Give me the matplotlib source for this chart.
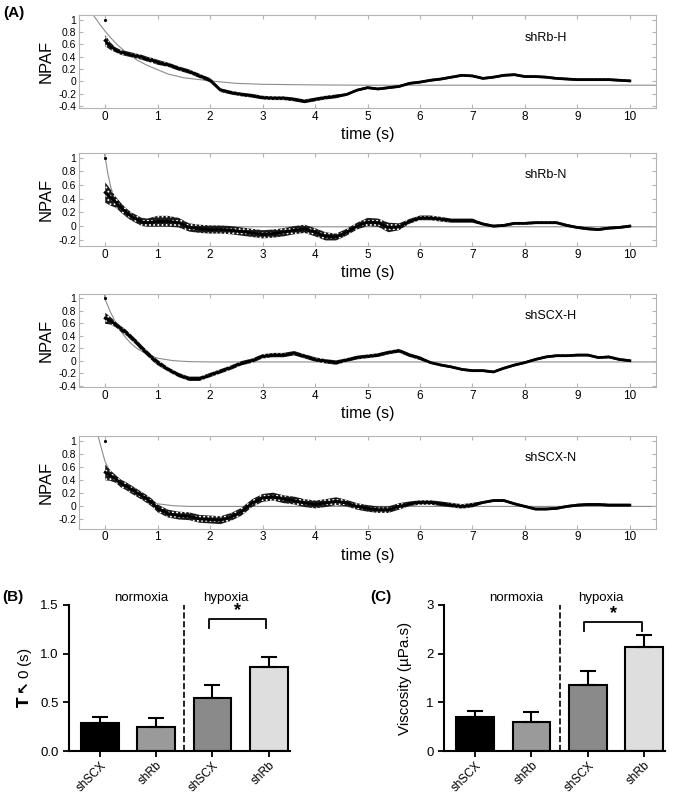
import numpy as np
import matplotlib
matplotlib.use('Agg')
import matplotlib.pyplot as plt

plt.rcParams['font.family'] = ['Liberation Sans', 'DejaVu Sans']
plt.rcParams['mathtext.fontset'] = 'dejavusans'
plt.rcParams['hatch.linewidth'] = 0.8

# time grid of the traces (s)
t = np.concatenate([np.arange(0, 1.01, 0.1), np.arange(1.2, 10.01, 0.2)])

# NPAF traces (centre and half-width of the noisy band)
shRb_H = [0.66, 0.57, 0.51, 0.47, 0.45, 0.43, 0.41, 0.39, 0.36, 0.34, 0.31,
          0.27, 0.21, 0.16, 0.09, 0.02,
          -0.14, -0.18, -0.21, -0.23, -0.26, -0.27, -0.27, -0.29, -0.32, -0.29, -0.26, -0.24,
          -0.21, -0.14, -0.10, -0.12, -0.10, -0.08, -0.03, -0.01, 0.02, 0.04, 0.07, 0.10,
          0.09, 0.05, 0.07, 0.10, 0.11, 0.08, 0.08, 0.07, 0.05, 0.04, 0.03, 0.03, 0.03,
          0.03, 0.02, 0.01]
shRb_H_sd = [0.09, 0.06] + [0.04] * 9 + [0.035] * 5 + [0.03] * 12 + [0.02] * 28

shRb_N = [0.49, 0.42, 0.35, 0.27, 0.20, 0.14, 0.10, 0.06, 0.05, 0.06, 0.07,
          0.07, 0.05, -0.02, -0.04, -0.05, -0.05, -0.06, -0.08, -0.10, -0.12, -0.11,
          -0.09, -0.06, -0.04, -0.09, -0.15, -0.16,
          -0.09, 0.0, 0.06, 0.05, -0.02, -0.01, 0.07, 0.12, 0.12, 0.10, 0.08, 0.08,
          0.08, 0.03, 0.0, 0.01, 0.04, 0.04, 0.05, 0.05, 0.05, 0.01, -0.02, -0.04,
          -0.05, -0.03, -0.02, 0.0]
shRb_N_sd = ([0.15, 0.12, 0.08, 0.07, 0.06, 0.06, 0.06, 0.06, 0.06, 0.07, 0.08]
             + [0.08, 0.07] + [0.06] * 14 + [0.05]
             + [0.05, 0.05, 0.06, 0.06, 0.07, 0.05]
             + [0.035] * 4 + [0.03] * 3 + [0.02] * 15)

shSCX_H = [0.68, 0.64, 0.58, 0.51, 0.45, 0.37, 0.29, 0.20, 0.12, 0.04, -0.03,
           -0.14, -0.23, -0.29, -0.29, -0.23, -0.17, -0.11, -0.04, 0.0, 0.07, 0.09,
           0.09, 0.12, 0.07, 0.02, -0.01, -0.03,
           0.01, 0.05, 0.07, 0.09, 0.13, 0.16, 0.09, 0.04, -0.03, -0.07, -0.10, -0.14,
           -0.16, -0.16, -0.18, -0.12, -0.07, -0.03, 0.02, 0.06, 0.08, 0.08, 0.09, 0.09,
           0.05, 0.06, 0.02, 0.0]
shSCX_H_sd = [0.09, 0.06] + [0.045] * 9 + [0.035] * 17 + [0.03] * 8 + [0.02] * 20

shSCX_N = [0.52, 0.47, 0.42, 0.35, 0.31, 0.26, 0.21, 0.16, 0.11, 0.05, -0.03,
           -0.11, -0.14, -0.15, -0.19, -0.20, -0.21, -0.16, -0.08, 0.05, 0.13, 0.15,
           0.11, 0.09, 0.05, 0.03, 0.05, 0.08,
           0.05, 0.0, -0.03, -0.05, -0.05, 0.0, 0.04, 0.06, 0.06, 0.04, 0.02, 0.0,
           0.02, 0.06, 0.09, 0.09, 0.04, 0.0, -0.04, -0.04, -0.03, 0.0, 0.02, 0.03,
           0.03, 0.02, 0.02, 0.02]
shSCX_N_sd = ([0.12, 0.08] + [0.06] * 9 + [0.06] * 17
              + [0.05] * 6 + [0.035] * 7 + [0.02] * 15)

# fitted decays (grey curves), read point by point
fit1_t = [-0.25, -0.1, 0, 0.1, 0.2, 0.3, 0.4, 0.5, 0.6, 0.8, 1.0, 1.2, 1.5, 2.0, 2.5, 3.0, 4.0, 5.0, 10.5]
fit1_v = [1.10, 0.92, 0.81, 0.71, 0.62, 0.54, 0.47, 0.41, 0.35, 0.26, 0.19, 0.12, 0.06, 0.01,
          -0.03, -0.045, -0.055, -0.06, -0.06]
fit2_t = [-0.02, 0, 0.05, 0.1, 0.15, 0.2, 0.3, 0.4, 0.5, 0.7, 1.0, 1.5, 2.0, 10.5]
fit2_v = [1.08, 1.0, 0.77, 0.59, 0.46, 0.36, 0.22, 0.14, 0.09, 0.04, 0.01, 0.0, -0.01, -0.01]
fit3_t = [-0.02, 0, 0.1, 0.2, 0.3, 0.4, 0.5, 0.6, 0.8, 1.0, 1.3, 1.6, 2.0, 10.5]
fit3_v = [1.08, 0.98, 0.78, 0.61, 0.47, 0.36, 0.27, 0.20, 0.10, 0.04, 0.0, -0.015, -0.02, -0.02]
fit4_t = [-0.15, -0.1, -0.05, 0, 0.1, 0.2, 0.3, 0.4, 0.5, 0.6, 0.8, 1.0, 1.3, 1.6, 10.5]
fit4_v = [1.12, 0.97, 0.82, 0.68, 0.52, 0.42, 0.33, 0.26, 0.20, 0.16, 0.09, 0.04, 0.01, 0.0, 0.0]

names = ['shRb-H', 'shRb-N', 'shSCX-H', 'shSCX-N']
traces = [shRb_H, shRb_N, shSCX_H, shSCX_N]
spreads = [shRb_H_sd, shRb_N_sd, shSCX_H_sd, shSCX_N_sd]
fits = [(fit1_t, fit1_v), (fit2_t, fit2_v), (fit3_t, fit3_v), (fit4_t, fit4_v)]
yticks_sets = [[1, 0.8, 0.6, 0.4, 0.2, 0, -0.2, -0.4],
               [1, 0.8, 0.6, 0.4, 0.2, 0, -0.2],
               [1, 0.8, 0.6, 0.4, 0.2, 0, -0.2, -0.4],
               [1, 0.8, 0.6, 0.4, 0.2, 0, -0.2]]
ylims = [(-0.43, 1.07), (-0.29, 1.07), (-0.42, 1.07), (-0.34, 1.08)]

# bar charts
groups = ['shSCX', 'shRb', 'shSCX', 'shRb']
tau0 = [0.29, 0.25, 0.55, 0.86]
tau0_err = [0.06, 0.09, 0.13, 0.11]
visc = [0.70, 0.60, 1.36, 2.13]
visc_err = [0.13, 0.21, 0.29, 0.26]
bar_colors = ['#000000', '#9a9a9a', '#8a8a8a', '#dedede']

fig = plt.figure(figsize=(6.75, 8.01), dpi=100)
grey = '#b4b4b4'
bottoms = [0.865, 0.693, 0.517, 0.340]

for i in range(4):
    ax = fig.add_axes([0.117, bottoms[i], 0.855, 0.116])
    c = np.array(traces[i])
    s = np.array(spreads[i])
    ax.plot(fits[i][0], fits[i][1], color='#8c8c8c', lw=0.8, zorder=1)
    # noisy scatter band: dark fill speckled with a white dot hatch
    ax.fill_between(t, c - s, c + s, facecolor='#1a1a1a', edgecolor='white', hatch='....',
                    lw=0, zorder=2)
    ax.plot(t, c, color='k', lw=2.0, zorder=3)
    ax.plot([0], [1], 'k.', ms=2.5, zorder=3)
    ax.set_xlim(-0.5, 10.5)
    ax.set_ylim(*ylims[i])
    ax.set_xticks(range(11))
    ax.set_yticks(yticks_sets[i])
    ax.set_yticklabels(['%g' % v for v in yticks_sets[i]])
    for sp in ax.spines.values():
        sp.set_color(grey)
    ax.tick_params(direction='in', top=True, right=True, color=grey, length=3, pad=2)
    ax.tick_params(axis='x', labelsize=8.5)
    ax.tick_params(axis='y', labelsize=7.5)
    ax.set_ylabel('NPAF', fontsize=12, labelpad=3)
    ax.set_xlabel('time (s)', fontsize=11.5, labelpad=3)
    ax.text(0.773, 0.76, names[i], transform=ax.transAxes, fontsize=9, va='center')

fig.text(0.005, 0.992, '(A)', fontsize=11, fontweight='bold', va='top')
fig.text(0.003, 0.255, '(B)', fontsize=11, fontweight='bold', va='center')
fig.text(0.548, 0.255, '(C)', fontsize=11, fontweight='bold', va='center')


def bar_panel(ax, vals, errs, ymax, yticks, ytl, ylabel, norm_y, br):
    x = np.arange(len(vals))
    ax.bar(x, vals, width=0.67, color=bar_colors, edgecolor='k', linewidth=1.5, zorder=2)
    ax.errorbar(x, vals, yerr=[np.zeros(len(vals)), errs], fmt='none', ecolor='k',
                elinewidth=1.5, capsize=6, capthick=1.5, zorder=3)
    ax.set_xlim(-0.55, 3.37)
    ax.set_ylim(0, ymax)
    ax.set_yticks(yticks)
    ax.set_yticklabels(ytl)
    ax.set_xticks(x)
    ax.set_xticklabels(groups, rotation=45, ha='right', rotation_mode='anchor', fontsize=8.5)
    ax.tick_params(axis='y', labelsize=9.5, width=1.3, length=4)
    ax.tick_params(axis='x', width=1.3, length=4, pad=2)
    for sp in ['top', 'right']:
        ax.spines[sp].set_visible(False)
    for sp in ['left', 'bottom']:
        ax.spines[sp].set_linewidth(1.5)
    ax.plot([1.5, 1.5], [0, ymax], 'k--', lw=1.2, clip_on=False)
    ax.text(0.73, norm_y, 'normoxia', ha='center', va='center', fontsize=9.5)
    ax.text(2.24, norm_y, 'hypoxia', ha='center', va='center', fontsize=9.5)
    ax.plot([1.94, 1.94, 2.96, 2.96], [br[0], br[1], br[1], br[0]], color='k', lw=1.3)
    ax.text(2.45, br[1], '*', ha='center', va='bottom', fontsize=13, fontweight='bold')
    ax.set_ylabel(ylabel, fontsize=11)


axB = fig.add_axes([0.102, 0.062, 0.327, 0.183])
bar_panel(axB, tau0, tau0_err, 1.5, [0, 0.5, 1.0, 1.5], ['0.0', '0.5', '1.0', '1.5'],
          r'$\mathbf{T}\boldsymbol{\nwarrow}$0 (s)', 1.57, (1.26, 1.35))
axC = fig.add_axes([0.658, 0.062, 0.327, 0.183])
bar_panel(axC, visc, visc_err, 3, [0, 1, 2, 3], ['0', '1', '2', '3'],
          'Viscosity (\u00b5Pa.s)', 3.14, (2.46, 2.64))
axC.yaxis.labelpad = 10

fig.savefig('out.png', dpi=100)
